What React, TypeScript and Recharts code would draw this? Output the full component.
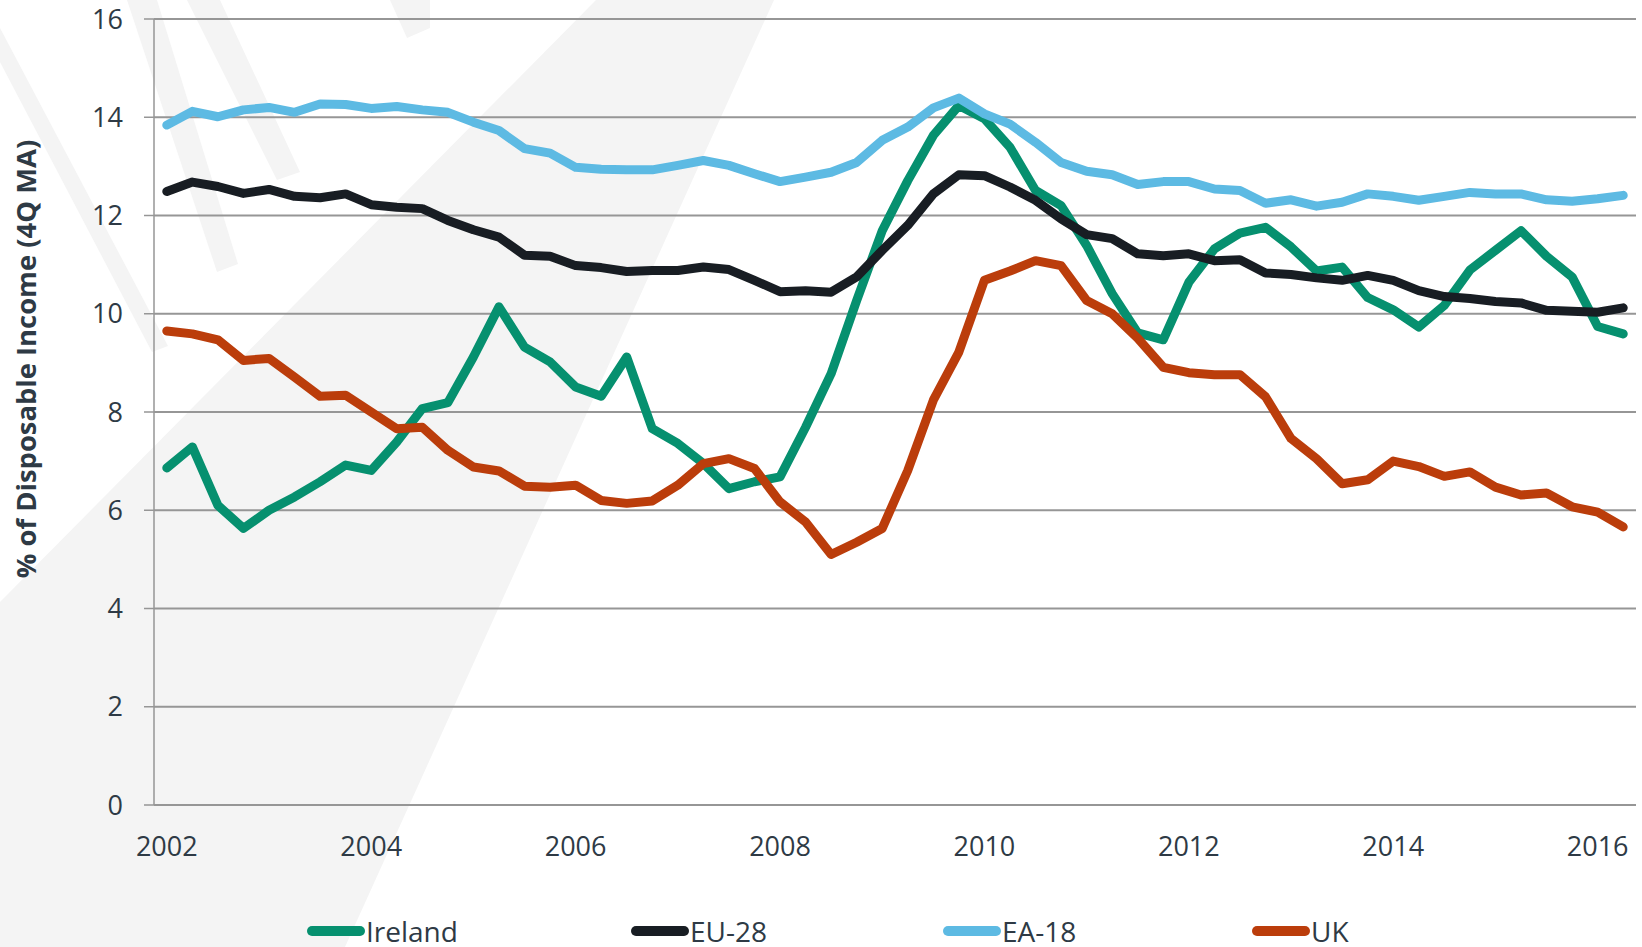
import React from 'react';
import { LineChart, Line, XAxis, YAxis, CartesianGrid, Legend } from 'recharts';

const quarters = [
  '2002Q1', '2002Q2', '2002Q3', '2002Q4', '2003Q1', '2003Q2', '2003Q3', '2003Q4',
  '2004Q1', '2004Q2', '2004Q3', '2004Q4', '2005Q1', '2005Q2', '2005Q3', '2005Q4',
  '2006Q1', '2006Q2', '2006Q3', '2006Q4', '2007Q1', '2007Q2', '2007Q3', '2007Q4',
  '2008Q1', '2008Q2', '2008Q3', '2008Q4', '2009Q1', '2009Q2', '2009Q3', '2009Q4',
  '2010Q1', '2010Q2', '2010Q3', '2010Q4', '2011Q1', '2011Q2', '2011Q3', '2011Q4',
  '2012Q1', '2012Q2', '2012Q3', '2012Q4', '2013Q1', '2013Q2', '2013Q3', '2013Q4',
  '2014Q1', '2014Q2', '2014Q3', '2014Q4', '2015Q1', '2015Q2', '2015Q3', '2015Q4',
  '2016Q1', '2016Q2',
];

const ireland = [
  6.86, 7.29, 6.1, 5.63, 6.0, 6.27, 6.58, 6.92, 6.81, 7.39, 8.07, 8.19, 9.12, 10.14, 9.32, 9.02,
  8.51, 8.32, 9.12, 7.66, 7.36, 6.95, 6.44, 6.58, 6.68, 7.69, 8.78, 10.27, 11.69, 12.71, 13.63, 14.24,
  13.97, 13.39, 12.51, 12.2, 11.39, 10.41, 9.61, 9.47, 10.64, 11.32, 11.64, 11.76, 11.36, 10.87, 10.95, 10.33,
  10.08, 9.73, 10.17, 10.89, 11.29, 11.69, 11.17, 10.75, 9.74, 9.59,
];

const eu28 = [
  12.49, 12.68, 12.59, 12.45, 12.53, 12.39, 12.36, 12.44, 12.22, 12.17, 12.14, 11.9, 11.71, 11.56, 11.19, 11.17,
  10.98, 10.94, 10.86, 10.88, 10.88, 10.95, 10.9, 10.68, 10.45, 10.47, 10.44, 10.75, 11.29, 11.8, 12.44, 12.83,
  12.81, 12.58, 12.31, 11.93, 11.61, 11.53, 11.22, 11.18, 11.22, 11.08, 11.1, 10.83, 10.8, 10.73, 10.68, 10.78,
  10.68, 10.47, 10.35, 10.31, 10.25, 10.22, 10.07, 10.05, 10.03, 10.12,
];

const ea18 = [
  13.84, 14.12, 14.01, 14.15, 14.2, 14.1, 14.27, 14.26, 14.18, 14.22, 14.15, 14.1, 13.9, 13.73, 13.36, 13.27,
  12.98, 12.94, 12.93, 12.93, 13.02, 13.12, 13.02, 12.85, 12.69, 12.78, 12.88, 13.08, 13.53, 13.8, 14.19, 14.39,
  14.07, 13.86, 13.49, 13.08, 12.9, 12.83, 12.63, 12.69, 12.69, 12.54, 12.51, 12.25, 12.32, 12.19, 12.27, 12.44,
  12.39, 12.31, 12.39, 12.47, 12.44, 12.44, 12.32, 12.29, 12.34, 12.41,
];

const uk = [
  9.65, 9.59, 9.47, 9.05, 9.09, 8.71, 8.32, 8.34, 8.0, 7.66, 7.69, 7.22, 6.88, 6.8, 6.49, 6.47,
  6.51, 6.2, 6.14, 6.19, 6.51, 6.95, 7.05, 6.85, 6.17, 5.76, 5.1, 5.35, 5.63, 6.81, 8.24, 9.22,
  10.68, 10.87, 11.08, 10.98, 10.27, 10.0, 9.5, 8.91, 8.8, 8.76, 8.76, 8.31, 7.46, 7.05, 6.54, 6.62,
  7.0, 6.89, 6.69, 6.78, 6.47, 6.31, 6.35, 6.07, 5.96, 5.66,
];

const yTicks = [0, 2, 4, 6, 8, 10, 12, 14, 16];

const series = [
  { key: 'ireland', name: 'Ireland', color: '#06906f' },
  { key: 'eu28', name: 'EU-28', color: '#181d23' },
  { key: 'ea18', name: 'EA-18', color: '#5dbae3' },
  { key: 'uk', name: 'UK', color: '#bb3d0b' },
];

// left edge of each legend item, in px
const legendX = [306, 630, 942, 1251];

const data = quarters.map((quarter, i) => ({
  quarter,
  ireland: ireland[i],
  eu28: eu28[i],
  ea18: ea18[i],
  uk: uk[i],
}));

const FONT = '"Open Sans", sans-serif';
const TEXT = '#2e3a45';
const GRID = '#969696';

const LegendRow = () => (
  <div style={{ position: 'relative', height: 30, fontFamily: FONT }}>
    {series.map((s, i) => (
      <div
        key={s.key}
        style={{
          position: 'absolute',
          left: legendX[i],
          top: 0,
          display: 'flex',
          alignItems: 'center',
          height: 30,
        }}
      >
        <svg width={60} height={12}>
          <line x1={6} y1={6} x2={54} y2={6} stroke={s.color} strokeWidth={10} strokeLinecap="round" />
        </svg>
        <span style={{ fontSize: 28, lineHeight: '30px', color: TEXT }}>{s.name}</span>
      </div>
    ))}
  </div>
);

const Watermark = () => (
  <svg width={1642} height={947} style={{ position: 'absolute', left: 0, top: 0 }}>
    <g fill="#f4f4f4">
      <polygon points="596,0 774,0 345,947 0,947 0,602" />
      <polygon points="0,28 0,62 152,352 168,346" />
      <polygon points="127,0 157,0 238,264 217,272" />
      <polygon points="187,0 220,0 300,172 277,180" />
      <polygon points="390,0 430,0 430,28 407,38" />
    </g>
  </svg>
);

const YLabel = () => (
  <text
    transform="translate(36, 359) rotate(-90)"
    textAnchor="middle"
    fontFamily={FONT}
    fontWeight={700}
    fontSize={27.4}
    fill={TEXT}
  >
    % of Disposable Income (4Q MA)
  </text>
);

export default function App() {
  return (
    <div style={{ position: 'absolute', left: 0, top: 0, width: 1642, height: 947, background: '#fff', overflow: 'hidden' }}>
      <Watermark />
      <div style={{ position: 'absolute', left: 0, top: 0 }}>
        <LineChart width={1642} height={947} data={data} margin={{ top: 19, right: 6, bottom: 0, left: 0 }}>
          <CartesianGrid vertical={false} stroke={GRID} strokeWidth={2} />
          <XAxis
            dataKey="quarter"
            interval={7}
            height={142}
            padding={{ left: 12.8, right: 12.8 }}
            tickFormatter={(q: string) => q.slice(0, 4)}
            tickLine={false}
            tickSize={8}
            tickMargin={24}
            axisLine={{ stroke: GRID, strokeWidth: 2 }}
            tick={{ fontSize: 27, fill: TEXT, fontFamily: FONT }}
          />
          <YAxis
            type="number"
            domain={[0, 16]}
            ticks={yTicks}
            interval={0}
            width={154}
            tickSize={10}
            tickMargin={21}
            axisLine={{ stroke: GRID, strokeWidth: 1.5 }}
            tickLine={{ stroke: GRID, strokeWidth: 1.5 }}
            tick={{ fontSize: 27, fill: TEXT, fontFamily: FONT }}
            label={() => <YLabel />}
          />
          {series.map((s) => (
            <Line
              key={s.key}
              type="linear"
              dataKey={s.key}
              name={s.name}
              stroke={s.color}
              strokeWidth={9}
              strokeLinecap="round"
              strokeLinejoin="round"
              dot={false}
              activeDot={false}
              isAnimationActive={false}
            />
          ))}
          <Legend
            layout="horizontal"
            verticalAlign="middle"
            align="center"
            wrapperStyle={{ top: 916, left: 0, width: 1642 }}
            content={() => <LegendRow />}
          />
        </LineChart>
      </div>
    </div>
  );
}
